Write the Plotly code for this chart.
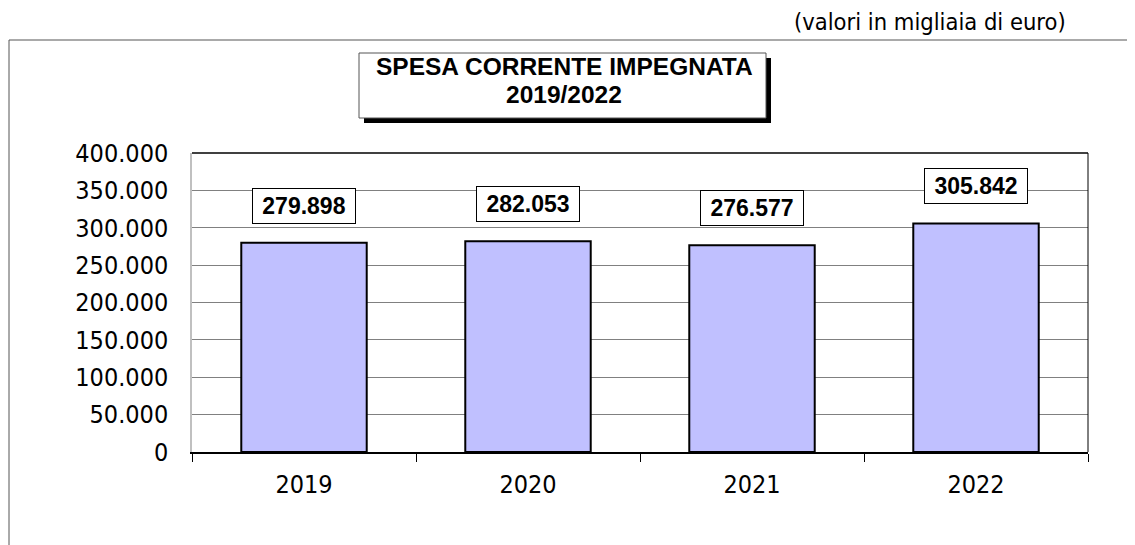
import plotly.graph_objects as go

years = ["2019", "2020", "2021", "2022"]
values = [279898, 282053, 276577, 305842]
y_ticks = [0, 50000, 100000, 150000, 200000, 250000, 300000, 350000, 400000]

OFF = 8  # page body margin
W, H = 1135 - OFF, 545 - OFF
L, R, T, B = 192 - OFF, 1088 - OFF, 153 - OFF, 452 - OFF


def px(x):
    return (x - OFF - L) / (R - L)


def py(y):
    return (B - (y - OFF)) / (B - T)


def fmt(v):
    return f"{v:,}".replace(",", ".")


AX_FONT = "DejaVu Sans Condensed, DejaVu Sans"
BOLD_FONT = "Liberation Sans, Arial"

fig = go.Figure()
fig.add_trace(go.Bar(
    x=years, y=values, width=0.56,
    marker=dict(color="#C0C0FF", line=dict(color="black", width=2)),
    hoverinfo="skip",
))

annotations = []
for i, v in enumerate(values):
    annotations.append(dict(
        x=i, y=v, xref="x", yref="y", text=f"<b>{fmt(v)}</b>",
        showarrow=False, yshift=37, yanchor="middle",
        font=dict(family=BOLD_FONT, size=23, color="black"),
        bgcolor="white", bordercolor="black", borderwidth=1,
        width=100, height=32, borderpad=1,
    ))

annotations.append(dict(
    x=px(564), y=py(67), xref="paper", yref="paper",
    text="<b>SPESA CORRENTE IMPEGNATA</b>",
    showarrow=False, xanchor="center", yanchor="middle",
    font=dict(family=BOLD_FONT, size=24.5, color="black"),
))
annotations.append(dict(
    x=px(564), y=py(95), xref="paper", yref="paper",
    text="<b>2019/2022</b>",
    showarrow=False, xanchor="center", yanchor="middle",
    font=dict(family=BOLD_FONT, size=24.5, color="black"),
))
annotations.append(dict(
    x=px(1068), y=py(22), xref="paper", yref="paper",
    text="(valori in migliaia di euro)", showarrow=False,
    xanchor="right", yanchor="middle",
    font=dict(family=AX_FONT, size=23.5, color="black"),
))

shapes = [
    dict(type="line", xref="paper", yref="paper", x0=px(9), x1=px(1135), y0=py(40), y1=py(40),
         line=dict(color="#555555", width=1)),
    dict(type="line", xref="paper", yref="paper", x0=px(9), x1=px(9), y0=py(40), y1=py(545),
         line=dict(color="#555555", width=1)),
    dict(type="line", xref="paper", yref="paper", x0=0, x1=1, y0=1, y1=1,
         line=dict(color="black", width=1.5)),
    dict(type="line", xref="paper", yref="paper", x0=1, x1=1, y0=0, y1=1,
         line=dict(color="black", width=1)),
    dict(type="rect", xref="paper", yref="paper", x0=px(364), x1=px(771), y0=py(123), y1=py(58),
         fillcolor="black", line=dict(width=0)),
    dict(type="rect", xref="paper", yref="paper", x0=px(359), x1=px(766), y0=py(118), y1=py(53),
         fillcolor="white", line=dict(color="#555555", width=1)),
]

fig.update_layout(
    width=W, height=H,
    margin=dict(l=L, r=W - R, t=T, b=H - B, pad=0, autoexpand=False),
    paper_bgcolor="white", plot_bgcolor="white",
    showlegend=False,
    separators=",.",
    annotations=annotations,
    shapes=shapes,
    xaxis=dict(
        type="category", range=[-0.5, 3.5], tickson="boundaries", ticks="outside", ticklen=8,
        tickcolor="black", tickwidth=1, showgrid=False,
        showline=True, linecolor="black", linewidth=1.5,
        tickfont=dict(family=AX_FONT, size=25, color="black"),
        ticklabelstandoff=9, tickangle=0,
    ),
    yaxis=dict(
        range=[0, 400000], tickvals=y_ticks, tickformat=",d",
        showgrid=True, gridcolor="#808080", gridwidth=1,
        showline=True, linecolor="#C0C0C0", linewidth=1.5,
        zeroline=False, ticks="",
        tickfont=dict(family=AX_FONT, size=25, color="black"),
        ticklabelstandoff=17,
    ),
)

fig.write_html("out.html")
